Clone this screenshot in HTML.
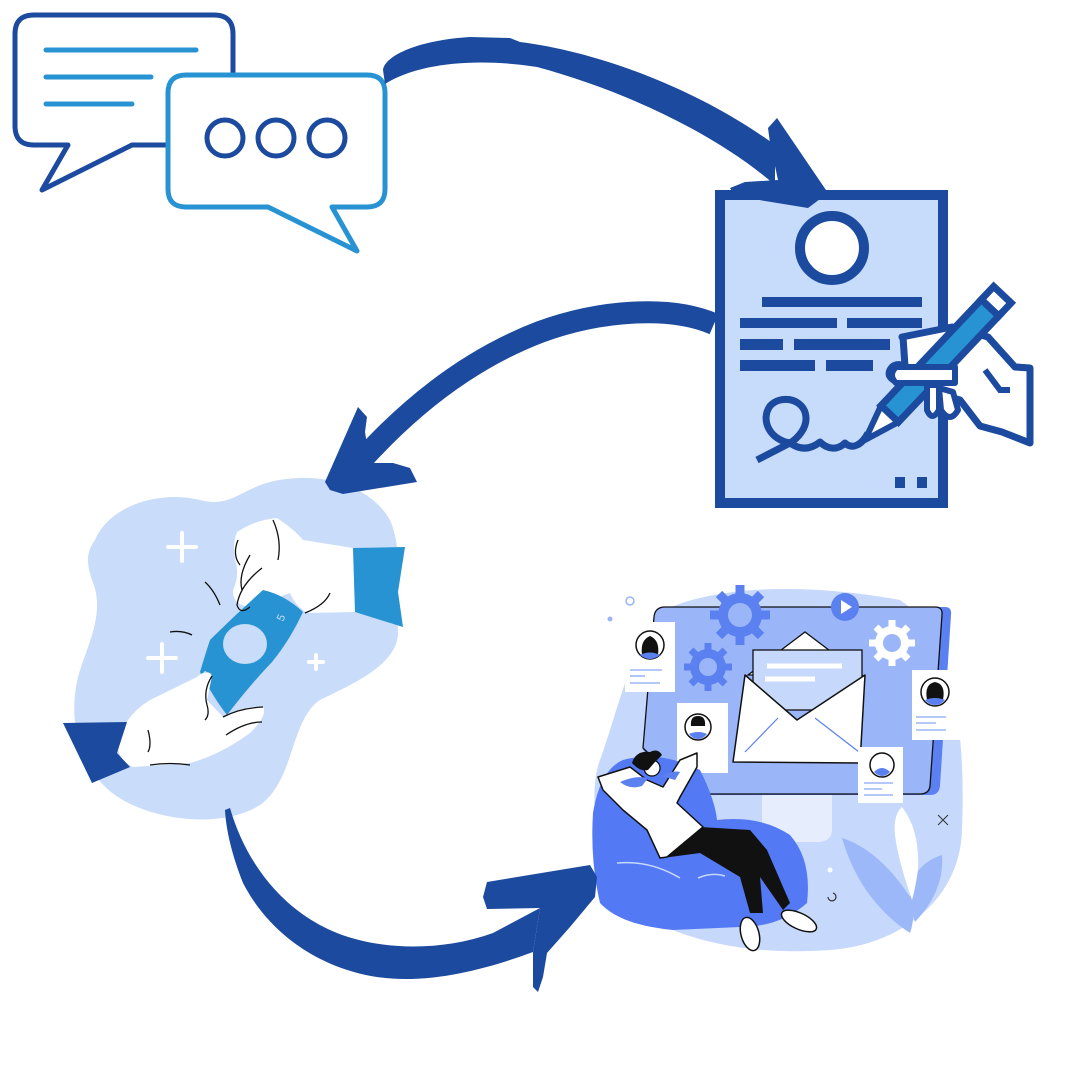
<!DOCTYPE html>
<html><head><meta charset="utf-8"><style>
html,body{margin:0;padding:0;background:#fff;}
svg{display:block;}
</style></head><body>
<svg width="1080" height="1080" viewBox="0 0 1080 1080" xmlns="http://www.w3.org/2000/svg">
<rect width="1080" height="1080" fill="#fff"/>

<!-- Speech bubble 1 -->
<path d="M34 15 H214 Q233 15 233 34 V126 Q233 145 214 145 H132 L42 190 L68 145 H34 Q15 145 15 126 V34 Q15 15 34 15 Z" fill="#fff" stroke="#1b4a9f" stroke-width="5" stroke-linejoin="round"/>
<g stroke="#2893d2" stroke-width="5" stroke-linecap="round">
<line x1="46" y1="50" x2="196" y2="50"/>
<line x1="46" y1="77" x2="151" y2="77"/>
<line x1="46" y1="104" x2="132" y2="104"/>
</g>
<!-- Speech bubble 2 -->
<path d="M186 75 H367 Q385 75 385 93 V189 Q385 207 367 207 H332 L357 251 L268 207 H186 Q168 207 168 189 V93 Q168 75 186 75 Z" fill="#fff" stroke="#2893d2" stroke-width="5" stroke-linejoin="round"/>
<g fill="none" stroke="#1b4a9f" stroke-width="5">
<circle cx="225" cy="138" r="18"/>
<circle cx="276" cy="138" r="18"/>
<circle cx="327" cy="138" r="18"/>
</g>

<!-- Document -->
<rect x="720" y="195" width="223" height="308" fill="#c7dcfb" stroke="#1b4a9f" stroke-width="10"/>
<circle cx="832" cy="248" r="32" fill="#fff" stroke="#1b4a9f" stroke-width="10"/>
<g fill="#1b4a9f">
<rect x="762" y="297" width="160" height="10"/>
<rect x="740" y="318" width="97" height="10"/>
<rect x="847" y="318" width="75" height="10"/>
<rect x="740" y="339" width="43" height="11"/>
<rect x="794" y="339" width="96" height="11"/>
<rect x="740" y="360" width="75" height="11"/>
<rect x="826" y="360" width="47" height="11"/>
<rect x="895" y="477" width="10" height="11"/>
<rect x="917" y="477" width="10" height="11"/>
</g>
<path d="M757 460 L790 443 C770 440 760 420 770 406 C780 395 800 398 805 412 C810 428 795 440 790 443 C800 450 810 450 820 442 C828 450 838 450 845 443 C852 450 862 445 868 433" fill="none" stroke="#1b4a9f" stroke-width="7" stroke-linejoin="round"/>

<!-- Hand body (behind pen) -->
<path d="M902 337 L952 327 L988 337 L1015 367 L1030 368 L1030 443 L1002 432 L980 426 L960 400 L900 383 Q886 378 890 370 Q894 362 905 366 L903 337 Z" fill="#fff" stroke="#1b4a9f" stroke-width="7" stroke-linejoin="round"/>
<!-- Pen -->
<g transform="translate(865,440) rotate(-46.6)">
<path d="M0 0 L36 -12 L36 12 Z" fill="#fff" stroke="#1b4a9f" stroke-width="6" stroke-linejoin="round"/>
<rect x="36" y="-12" width="146" height="24" fill="#2893d2" stroke="#1b4a9f" stroke-width="7"/>
<rect x="182" y="-12" width="18" height="24" fill="#fff" stroke="#1b4a9f" stroke-width="7"/>
</g>
<!-- thumb and fingers over pen -->
<path d="M896 367 L955 367 L955 383 L896 383 Q888 375 896 367 Z" fill="#fff" stroke="#1b4a9f" stroke-width="6" stroke-linejoin="round"/>
<path d="M927 385 L927 410 Q932 422 939 410 L939 385 Z M939 388 L941 410 Q950 424 958 410 L953 392 Z" fill="#fff" stroke="#1b4a9f" stroke-width="6" stroke-linejoin="round"/>
<path d="M985 370 L1000 390 L1010 390" fill="none" stroke="#1b4a9f" stroke-width="6"/>

<!-- Money scene -->
<path d="M95 540 C110 505 160 490 200 500 C230 508 240 490 270 482 C320 470 370 485 390 520 C405 555 395 600 398 630 C400 665 350 685 320 700 C290 720 295 780 260 805 C220 830 150 820 115 795 C80 770 65 720 80 670 C90 640 105 610 92 580 C85 560 88 550 95 540 Z" fill="#c9dcfa"/>
<g stroke="#fff" stroke-width="4" stroke-linecap="round">
<line x1="168" y1="547" x2="196" y2="547"/><line x1="182" y1="533" x2="182" y2="561"/>
<line x1="148" y1="658" x2="176" y2="658"/><line x1="162" y1="644" x2="162" y2="672"/>
<line x1="309" y1="662" x2="323" y2="662"/><line x1="316" y1="655" x2="316" y2="669"/>
</g>
<!-- top hand -->
<path d="M237 532 Q255 520 277 518 Q295 530 303 540 L353 548 L355 612 L307 613 Q295 605 290 593 L250 607 Q232 605 233 590 Q240 575 235 560 Q232 545 237 532 Z" fill="#fff"/>
<polygon points="353,548 405,547 398,592 403,627 355,612" fill="#2893d2"/>
<!-- bill -->
<path d="M263 590 Q285 595 303 612 Q290 640 272 662 Q250 685 227 715 Q215 700 200 672 Q205 655 210 640 Q235 615 263 590 Z" fill="#2893d2"/>
<ellipse cx="245" cy="644" rx="22" ry="20" fill="#c9dcfa"/>
<text x="283" y="622" font-family="Liberation Sans, sans-serif" font-size="11" fill="#c9dcfa" transform="rotate(-65 283 622)">5</text>
<text x="205" y="670" font-family="Liberation Sans, sans-serif" font-size="11" fill="#c9dcfa" transform="rotate(115 205 670)">5</text>
<g fill="none" stroke="#111" stroke-width="1.3">
<path d="M273 520 Q282 540 278 560"/>
<path d="M238 540 Q232 555 240 565 M250 555 Q238 575 242 590"/>
<path d="M262 568 Q240 585 237 605 Q240 615 250 607"/>
<path d="M330 593 Q325 605 305 613"/>
<path d="M205 582 Q214 590 220 605"/>
<path d="M170 632 Q182 630 192 635"/>
</g>
<!-- bottom hand -->
<path d="M117 743 Q125 715 150 700 L197 677 Q207 668 212 676 L207 700 L223 717 Q245 705 263 707 Q268 715 250 733 Q220 755 190 763 L133 767 Q118 760 117 743 Z" fill="#fff"/>
<polygon points="63,723 127,722 117,753 130,767 92,783" fill="#1b4a9f"/>
<g fill="none" stroke="#111" stroke-width="1.3">
<path d="M212 676 Q203 690 207 705 Q210 715 205 720"/>
<path d="M223 717 Q240 708 263 707"/>
<path d="M226 735 Q245 722 262 722"/>
<path d="M148 730 Q152 745 148 752"/>
<path d="M150 765 Q170 762 190 765"/>
</g>

<!-- Right scene background blob -->
<path d="M660 612 C720 582 820 585 900 600 C960 640 965 750 962 830 C960 900 900 945 830 950 C760 955 700 945 650 920 C600 890 585 800 600 760 C615 720 630 650 660 612 Z" fill="#c6d8fb"/>
<!-- stand -->
<path d="M762 795 H832 V830 Q832 840 820 842 H775 Q762 840 762 830 Z" fill="#e6eefd"/>
<!-- monitor -->
<path d="M668 607 H945 Q952 607 951 615 L940 786 Q939 795 930 795 H690 L643 750 L655 617 Q656 607 668 607 Z" fill="#5b80f2"/>
<path d="M665 607 H935 Q943 607 942 615 L930 786 Q929 794 920 794 H690 L643 748 L654 617 Q655 607 665 607 Z" fill="#9bb6f8" stroke="#111" stroke-width="1.3"/>
<!-- gears -->
<g fill="#5b80f0">
<circle cx="740" cy="615" r="22"/>
<g stroke="#5b80f0" stroke-width="9">
<line x1="740" y1="585" x2="740" y2="645"/><line x1="710" y1="615" x2="770" y2="615"/>
<line x1="719" y1="594" x2="761" y2="636"/><line x1="761" y1="594" x2="719" y2="636"/>
</g>
<circle cx="708" cy="667" r="18"/>
<g stroke="#5b80f0" stroke-width="7">
<line x1="708" y1="643" x2="708" y2="691"/><line x1="684" y1="667" x2="732" y2="667"/>
<line x1="691" y1="650" x2="725" y2="684"/><line x1="725" y1="650" x2="691" y2="684"/>
</g>
<circle cx="845" cy="607" r="14"/>
</g>
<circle cx="740" cy="615" r="12" fill="#9bb6f8"/>
<circle cx="708" cy="667" r="9" fill="#9bb6f8"/>
<polygon points="841,600 841,614 852,607" fill="#fff"/>
<g fill="#fff">
<circle cx="892" cy="643" r="17"/>
<g stroke="#fff" stroke-width="7">
<line x1="892" y1="620" x2="892" y2="666"/><line x1="869" y1="643" x2="915" y2="643"/>
<line x1="876" y1="627" x2="908" y2="659"/><line x1="908" y1="627" x2="876" y2="659"/>
</g>
</g>
<circle cx="892" cy="643" r="9" fill="#9bb6f8"/>
<circle cx="630" cy="601" r="4" fill="none" stroke="#9bb6f8" stroke-width="1.5"/>
<circle cx="610" cy="619" r="2.5" fill="#9bb6f8"/>
<!-- envelope -->
<polygon points="748,675 805,632 862,675" fill="#fff" stroke="#111" stroke-width="1.3"/>
<rect x="753" y="650" width="109" height="60" fill="#c6d8fb" stroke="#111" stroke-width="1.3"/>
<line x1="767" y1="666" x2="842" y2="666" stroke="#fff" stroke-width="5"/>
<line x1="765" y1="679" x2="815" y2="679" stroke="#fff" stroke-width="5"/>
<path d="M745 675 L797 720 L865 675 L860 763 L733 762 Z" fill="#fff" stroke="#111" stroke-width="1.5" stroke-linejoin="round"/>
<path d="M745 752 L778 718 M859 752 L815 718" stroke="#5b80f0" stroke-width="1.2"/>
<!-- cards -->
<g fill="#fff">
<rect x="625" y="622" width="50" height="70"/>
<rect x="677" y="703" width="51" height="70"/>
<rect x="912" y="670" width="50" height="70"/>
<rect x="858" y="747" width="45" height="56"/>
</g>
<g fill="#fff" stroke="#111" stroke-width="1.5">
<circle cx="650" cy="645" r="14"/>
<circle cx="698" cy="727" r="13"/>
<circle cx="935" cy="692" r="14"/>
<circle cx="882" cy="765" r="12"/>
</g>
<g fill="#111">
<path d="M642 655 Q640 640 650 636 Q660 640 658 655 Z"/>
<path d="M691 726 Q690 716 698 716 Q706 716 705 726 Z"/>
<path d="M927 700 Q924 684 935 682 Q946 684 943 700 Z"/>
</g>
<g fill="#5b80f0">
<path d="M640 655 Q650 650 660 655 Q655 659 650 659 Q645 659 640 655 Z"/>
<path d="M689 734 Q698 730 707 734 Q703 739 698 739 Q693 739 689 734 Z"/>
<path d="M925 700 Q935 696 945 700 Q941 705 935 705 Q929 705 925 700 Z"/>
<path d="M874 772 Q882 764 890 772 Q886 776 882 776 Q878 776 874 772 Z"/>
</g>
<g stroke="#9bb6f8" stroke-width="1.6">
<line x1="630" y1="670" x2="662" y2="670"/><line x1="630" y1="676" x2="645" y2="676"/><line x1="630" y1="683" x2="660" y2="683"/>
<line x1="916" y1="717" x2="946" y2="717"/><line x1="916" y1="723" x2="936" y2="723"/><line x1="916" y1="730" x2="946" y2="730"/>
<line x1="864" y1="783" x2="893" y2="783"/><line x1="864" y1="789" x2="882" y2="789"/><line x1="864" y1="795" x2="893" y2="795"/>
</g>
<!-- plants -->
<path d="M842 838 Q880 850 912 900 Q915 920 910 933 Q860 900 842 838 Z" fill="#9db8f9"/>
<path d="M942 855 Q945 890 915 922 Q905 895 915 875 Q925 860 942 855 Z" fill="#9db8f9"/>
<path d="M902 807 Q920 830 918 870 Q915 890 912 900 Q898 860 895 835 Q893 815 902 807 Z" fill="#fff"/>
<path d="M938 815 l5 5 M948 815 l-5 5 M938 825 l5 -5 M948 825 l-5 -5" stroke="#333" stroke-width="1"/>
<circle cx="830" cy="870" r="2.5" fill="#fff"/>
<path d="M833 893 A4 4 0 1 1 828 897" fill="none" stroke="#333" stroke-width="1.2"/>
<!-- beanbag -->
<path d="M623 760 Q660 750 700 770 Q715 800 717 820 Q760 815 790 835 Q812 860 807 903 Q780 927 740 927 L673 930 Q620 925 600 903 Q590 860 593 813 Q600 770 623 760 Z" fill="#5479f4"/>
<path d="M617 863 Q650 860 680 878 M698 878 Q712 872 725 876" fill="none" stroke="#c6d8fb" stroke-width="1.5"/>
<!-- person -->
<path d="M660 858 L700 827 L750 830 L767 850 L790 903 L783 910 L760 877 L763 913 L750 913 L740 877 L700 853 L670 857 Z" fill="#111"/>
<path d="M598 777 L630 767 L647 780 L663 787 L680 760 L697 753 L697 767 L680 797 L677 803 L703 827 L667 857 L660 858 L647 830 L623 810 L603 790 Z" fill="#fff" stroke="#111" stroke-width="1.5" stroke-linejoin="round"/>
<path d="M620 782 Q635 775 648 778 L642 786 Q630 790 620 782 Z M662 776 Q672 770 680 772 L675 780 Z" fill="#5b80f0"/>
<circle cx="652" cy="768" r="8" fill="#fff" stroke="#111" stroke-width="1.3"/>
<path d="M632 763 Q636 750 650 752 Q658 748 662 755 L655 762 L648 770 Q640 772 632 763 Z" fill="#111"/>
<ellipse cx="750" cy="934" rx="9" ry="17" transform="rotate(-15 750 934)" fill="#fff" stroke="#111" stroke-width="1.5"/>
<ellipse cx="799" cy="921" rx="19" ry="8" transform="rotate(25 799 921)" fill="#fff" stroke="#111" stroke-width="1.5"/>

<!-- Arrows -->
<g fill="#1b4a9f">
<path d="M383 70 C385 55 420 40 470 37 L510 38 L520 42 C600 52 700 90 775 145 L775 185 C720 137 630 92 537 67 C480 58 420 62 385 84 Z"/>
<polygon points="770,143 768,128 777,118 828,193 808,208 735,196 730,188 745,182 778,180"/>
<polygon points="358,407 367,417 365,432 370,463 393,463 410,468 417,482 343,494 330,490 325,482"/>
<path d="M230 808 C245 860 280 910 337 933 C380 950 440 952 493 933 L540 908 L533 952 C490 968 430 985 377 977 C320 968 270 935 243 883 C232 855 226 830 225 810 Z"/>
<polygon points="487,882 590,865 597,877 595,897 570,927 547,953 543,977 538,992 533,987 533,952 540,908 487,909 483,897"/>
</g>
<path d="M714 324 C670 305 600 310 540 332 C480 355 420 395 360 462" fill="none" stroke="#1b4a9f" stroke-width="22"/>
</svg>
</body></html>
